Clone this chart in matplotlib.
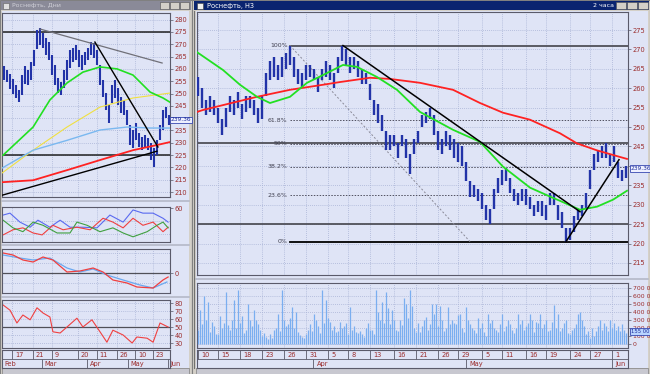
import matplotlib
matplotlib.use('Agg')
import matplotlib.pyplot as plt
import matplotlib.transforms as mtransforms
from matplotlib.patches import Rectangle

# ---------------- main window: hourly bars ----------------
main_hi = [263, 260, 257, 258, 257, 255, 252, 255, 258, 257,
           259, 256, 258, 258, 257, 255, 258, 264, 267, 268,
           266, 268, 269, 271, 268, 265, 264, 266, 266, 265,
           263, 265, 267, 266, 264, 268, 271, 270, 268, 268,
           267, 265, 264, 261, 257, 256, 253, 249, 248, 248,
           246, 248, 247, 243, 247, 249, 253, 254, 255, 253,
           249, 247, 249, 248, 247, 246, 245, 241, 236, 235,
           234, 233, 230, 229, 234, 237, 239, 239.5, 237, 234,
           233, 234, 234, 232, 230, 231, 231, 230, 233, 233,
           230, 228, 224, 224, 227, 229, 230, 233, 239, 243,
           244, 245, 246, 243, 245, 241, 239, 240]
main_lo = [258, 255, 253, 254, 253, 251, 248, 250, 254, 253,
           255, 252, 254, 255, 253, 251, 252, 258, 262, 263,
           262, 263, 265, 266, 263, 261, 260, 262, 263, 262,
           259, 262, 263, 262, 260, 264, 267, 266, 264, 265,
           263, 261, 261, 257, 253, 251, 249, 244, 244, 245,
           242, 245, 242, 238, 243, 246, 250, 251, 252, 248,
           244, 243, 245, 244, 242, 241, 240, 236, 232, 232,
           231, 229, 226, 225, 229, 233, 235, 236, 233, 231,
           230, 231, 230, 229, 227, 228, 227, 226, 230, 230,
           226, 224, 220.5, 221, 223, 226, 227, 229, 234, 239,
           241, 242, 242, 240, 241, 237, 236, 237]
main_last = 239.36

# volume in thousands, two readings per price bar
main_vol = [180, 420, 250, 600, 300, 520, 150, 280, 220, 130,
            120, 350, 200, 260, 650, 240, 180, 300, 550, 200,
            670, 260, 350, 140, 180, 500, 300, 220, 420, 300,
            250, 170, 100, 140, 90, 60, 120, 80, 180, 200,
            370, 160, 670, 300, 220, 250, 320, 460, 200, 400,
            150, 110, 90, 70, 130, 180, 250, 160, 380, 300,
            220, 140, 670, 260, 550, 330, 280, 180, 220, 150,
            160, 280, 200, 230, 260, 120, 460, 180, 220, 150,
            140, 160, 120, 90, 200, 260, 170, 180, 130, 670,
            400, 300, 520, 260, 650, 450, 250, 420, 300, 180,
            160, 300, 240, 580, 500, 330, 670, 480, 200, 150,
            260, 150, 230, 300, 340, 180, 250, 500, 380, 500,
            220, 480, 300, 160, 200, 460, 250, 300, 260, 250,
            360, 380, 200, 150, 460, 300, 250, 200, 180, 140,
            320, 200, 260, 150, 100, 380, 260, 300, 200, 180,
            150, 250, 380, 160, 230, 300, 250, 180, 140, 200,
            380, 250, 300, 180, 220, 260, 380, 300, 150, 280,
            260, 380, 200, 250, 300, 160, 180, 280, 490, 200,
            380, 160, 200, 260, 300, 140, 120, 180, 200, 250,
            380, 400, 300, 230, 120, 160, 80, 200, 100, 160,
            220, 300, 180, 260, 220, 160, 300, 200, 260, 180,
            220, 160, 250, 180, 140, 155]

red_ma_x = [-0.25, 1.25, 14.75, 23, 31.25, 35.5, 43, 48, 55.5, 63.75, 70.5,
            76.25, 83, 90.5, 94.75, 99.75, 105.5, 107.25]
red_ma_y = [253.9, 254.4, 257.8, 259.6, 260.9, 261.6, 262.7, 262.4, 261.4, 259.6,
            256.2, 253.7, 251.9, 248.4, 245.8, 244.0, 242.3, 241.8]
green_ma_x = [-0.25, 6.25, 10.5, 14.75, 18, 23, 27.25, 31.25, 36.25, 39.75, 44.75,
              49.75, 55.5, 63.75, 70.5, 76.25, 83, 88, 90.5, 95.5, 99.75, 103.75, 107.25]
green_ma_y = [269.3, 264.7, 260.9, 257.8, 256.2, 257.8, 261.4, 263.4, 266.0, 265.5, 262.9,
              259.6, 253.9, 249.3, 246.2, 239.8, 234.4, 232.1, 231.0, 228.7, 229.5, 231.3, 233.6]

fib_top, fib_bottom = 271.0, 220.5
fib_start, fib_end = 23, 68
fib_pct = [100, 61.8, 50, 38.2, 23.6, 0]
main_levels = [245.8, 225.0]
main_trend = [((36.25, 271.0), (95.5, 228.2)), ((92, 220.5), (105.25, 241.6))]

main_day_pos = [0, 5, 10.5, 16, 21.5, 27, 32.5, 37.5, 43, 49, 54.5, 60, 65, 71, 76, 82, 87, 93, 98, 103.5]
main_day_lbl = ['10', '15', '18', '23', '26', '31', '5', '8', '13', '16',
                '21', '26', '29', '5', '11', '16', '19', '24', '27', '1']
main_mon_pos = [28.75, 67, 103.5]
main_mon_lbl = ['Apr', 'May', 'Jun']

# ---------------- left window: daily bars ----------------
left_hi = [261, 259.5, 258, 256, 253.5, 251.5, 257.5, 261, 259.5, 263,
           267.7, 276, 276.6, 274.6, 272.5, 271, 265.6, 261.6, 256.3, 254.7,
           259.5, 263.6, 267.7, 268.5, 269.7, 267.7, 265.6, 266.9, 268.5, 271,
           270.5, 267.7, 261.6, 255.5, 250.2, 245.3, 253.5, 255.5, 252.2, 248.6,
           247.4, 243.3, 237.2, 235.2, 238, 234, 232.3, 233, 232, 230,
           228, 231, 237.2, 243.3, 244.5, 241.3]
left_lo = [255.5, 254.7, 252, 250, 248, 246.5, 249.4, 254, 253.5, 255.5,
           261, 268, 269.7, 268.5, 265.6, 263.6, 257.5, 253.5, 250.2, 249.4,
           252.2, 255.5, 260.4, 262.8, 263.6, 260.8, 259.5, 261.6, 263.6, 265.6,
           264.4, 261.6, 253.5, 248.6, 243.3, 238, 246.1, 248.2, 245.3, 242,
           241.3, 237.2, 229, 227.8, 231, 228.3, 227, 228, 227, 223,
           220.1, 225, 231, 235.2, 240, 237.2]

left_green_x = [-0.3, 9.7, 15.3, 21, 26.3, 32, 37.7, 43, 48.7, 53, 55.3]
left_green_y = [225, 236.4, 247.4, 254.3, 258.7, 260.8, 260, 257.5, 250.6, 248.2, 246.5]
left_yellow_x = [-0.7, 9.7, 21, 32, 43, 55.3]
left_yellow_y = [217.7, 227, 236.4, 244.5, 248.2, 250.2]
left_blue_x = [-0.7, 9.7, 21, 32, 41, 48.7, 55.3]
left_blue_y = [219.7, 227, 231, 235.2, 236.4, 236, 236]
left_red_x = [-0.7, 9.7, 21, 32, 43, 51, 55.3]
left_red_y = [214, 214.8, 218.9, 223, 227, 229.1, 230.3]

left_levels = [275, 225]
left_grey_trend = ((12, 276.2), (52.7, 262.4))
left_trend = [((30.3, 270.9), (51.3, 228.3)), ((-0.7, 208.7), (51, 226.6))]

# directional movement panel
dmi_blue_x = [-0.3, 2, 5.3, 8.7, 11.3, 15.3, 18.7, 22, 26.3, 31, 35.3, 39.7, 43, 46.3, 49.7, 53, 54.7]
dmi_blue_y = [49, 52, 38, 30, 41, 30, 41, 30, 30, 29, 49, 38, 57, 52, 52, 44, 38]
dmi_red_x = [-0.3, 3, 6.3, 9.7, 12.7, 16.3, 19.7, 24.3, 28.7, 33, 36.3, 39.7, 43, 46.3, 49.7, 53, 54.7]
dmi_red_y = [18, 26, 29, 21, 18, 33, 26, 30, 26, 44, 38, 29, 44, 33, 38, 23, 30]
dmi_green_x = [-0.3, 3, 6.3, 9.7, 13, 17.7, 22, 24.3, 27.7, 32, 36.3, 39.7, 43, 47.7, 51, 53, 54.7]
dmi_green_y = [41, 29, 23, 38, 33, 21, 21, 38, 33, 23, 29, 21, 15, 23, 33, 38, 29]

# MACD panel
macd_red_x = [-0.3, 3, 6.3, 9.7, 13, 16.3, 21, 25.3, 29.7, 33, 36.3, 41, 44.3, 49.7, 53, 54.7]
macd_red_y = [20, 18, 13, 11, 16, 13, 1, 2, 5, 1, -7, -10, -14, -15, -7, -4]
macd_blue_x = [-0.3, 5.3, 9.7, 15.3, 21, 25.3, 29.7, 34.3, 39.7, 45.3, 49.7, 54.3]
macd_blue_y = [18, 15, 13, 15, 5, 1, 4, -2, -7, -12, -15, -9]

# RSI panel
rsi_x = [-0.3, 2, 4.3, 6.3, 8.7, 11, 13, 15.3, 16.3, 18.7, 21, 24.3, 26.3, 29.3,
         32, 34.3, 36.3, 39.7, 42.7, 44.3, 47.7, 49.7, 52, 54.7]
rsi_y = [77.5, 71, 55, 65, 59, 74, 67.5, 62.5, 44, 42.5, 50, 61, 50, 59,
         44, 31, 46, 40, 30, 37.5, 36, 31, 55, 50]

left_day_pos = [2.7, 9.7, 16, 24.7, 31, 37.7, 43.7, 49.7]
left_day_lbl = ['17', '21', '9', '20', '11', '26', '10', '23']
left_mon_pos = [-0.67, 12.7, 27.7, 41.3, 54.7]
left_mon_lbl = ['Feb', 'Mar', 'Apr', 'May', 'Jun']

# ---------------- styling ----------------
W, H = 650, 374
BG = '#dfe4f6'
FRAME = '#5a5a6a'
GRID = '#a9b3d6'
LBL = '#9b2c2c'
BAR = '#2233a8'
FS = 4.8

fig = plt.figure(figsize=(W / 100, H / 100), dpi=100, facecolor='#c8c8d0')


def px_axes(x0, y0, x1, y1, face=BG):
    ax = fig.add_axes([x0 / W, 1 - y1 / H, (x1 - x0) / W, (y1 - y0) / H])
    ax.set_facecolor(face)
    for s in ax.spines.values():
        s.set_color(FRAME)
        s.set_linewidth(0.8)
    return ax


def setup_panel(ax, xlim, ylim, yticks, ylabels, grid_x, grid_y=None, fs=FS):
    ax.set_xlim(*xlim)
    ax.set_ylim(*ylim)
    ax.yaxis.tick_right()
    ax.set_yticks(yticks)
    ax.set_yticklabels(ylabels)
    ax.tick_params(axis='y', labelsize=fs, colors=FRAME, labelcolor=LBL,
                   length=2, width=0.5, pad=1.5)
    ax.set_xticks(grid_x)
    ax.tick_params(axis='x', length=0, labelbottom=False)
    ax.grid(True, axis='x', color=GRID, lw=0.6, ls=(0, (1, 1.5)))
    for g in (yticks if grid_y is None else grid_y):
        ax.axhline(g, color=GRID, lw=0.6, ls=(0, (1, 1.5)), zorder=0)
    ax.set_axisbelow(True)


def date_rows(x0, x1, xlim, day_pos, day_lbl, mon_pos, mon_lbl, dx):
    ax = px_axes(x0, 350, x1, 368)
    ax.set_xlim(*xlim)
    ax.set_ylim(0, 2)
    ax.set_xticks([])
    ax.set_yticks([])
    ax.axhline(1, color=FRAME, lw=0.6)
    ax.vlines(day_pos, 1, 2, color=FRAME, lw=0.6)
    ax.vlines(mon_pos, 0, 1, color=FRAME, lw=0.6)
    for p, t in zip(day_pos, day_lbl):
        ax.text(p + dx, 1.48, t, fontsize=FS, color=LBL, va='center', ha='left')
    for p, t in zip(mon_pos, mon_lbl):
        ax.text(p + dx, 0.48, t, fontsize=FS, color=LBL, va='center', ha='left')
    return ax


def readout(ax, value, text, face='#eef0ff', fs=FS - 0.6):
    # current value box drawn over the price scale, as the terminal does
    tr = mtransforms.blended_transform_factory(ax.transAxes, ax.transData)
    ax.text(1.006, value, text, transform=tr, fontsize=fs, color='#1a2a9a',
            va='center', ha='left', clip_on=False, zorder=10,
            bbox=dict(boxstyle='square,pad=0.12', fc=face, ec='#3848b0', lw=0.6))


# ---------------- window chrome ----------------
bg = fig.add_axes([0, 0, 1, 1])
bg.set_xlim(0, W)
bg.set_ylim(H, 0)
bg.axis('off')
bg.add_patch(Rectangle((0, 0), 192, H, fc='#d4d0c8', ec='#808080', lw=0.8))
bg.add_patch(Rectangle((2, 11), 187, 357, fc=BG, ec='none'))
bg.add_patch(Rectangle((1, 1), 190, 9, fc='#8a8a98', ec='none'))
bg.add_patch(Rectangle((3, 2.5), 6, 6, fc='#e0e0e0', ec='#606060', lw=0.4))
bg.text(12, 5.6, 'Роснефть, Дни', fontsize=4.5, color='#d0d0d8', va='center')
for bx in (160, 170, 180):
    bg.add_patch(Rectangle((bx, 2), 9, 7, fc='#d4d0c8', ec='#505050', lw=0.4))

bg.add_patch(Rectangle((192, 0), W - 192, H, fc='#d4d0c8', ec='#808080', lw=0.8))
bg.add_patch(Rectangle((196, 11), 452, 357, fc=BG, ec='none'))
bg.add_patch(Rectangle((194, 1), 455, 9, fc='#0a2470', ec='none'))
bg.add_patch(Rectangle((197, 2.5), 6, 6, fc='#f0f0f0', ec='#404040', lw=0.4))
bg.text(207, 5.6, 'Роснефть, H3', fontsize=4.8, color='white', va='center')
bg.text(614, 5.6, '2 часа', fontsize=4.5, color='white', va='center', ha='right')
for bx in (616, 627, 638):
    bg.add_patch(Rectangle((bx, 2), 10, 7, fc='#d4d0c8', ec='#505050', lw=0.4))

# splitters and scroll bars
for y in (201, 245, 297):
    bg.plot([2, 189], [y, y], color='#b4b8c8', lw=1.2)
bg.plot([196, 648], [279, 279], color='#b4b8c8', lw=1.2)
bg.add_patch(Rectangle((2, 368), 187, 6, fc='#c8c8d0', ec='#808080', lw=0.5))
bg.add_patch(Rectangle((196, 368), 452, 6, fc='#c8c8d0', ec='#808080', lw=0.5))
bg.plot([193.5, 193.5], [11, 368], color='#707070', lw=0.8)

# ---------------- main price panel ----------------
mx = (-0.25, 107.5)
ax = px_axes(197, 12, 628, 275)
setup_panel(ax, mx, (211.9, 279.64), list(range(215, 280, 5)),
            [str(v) if v != 240 else '' for v in range(215, 280, 5)], main_day_pos)

for lv in main_levels:
    ax.axhline(lv, color='#505058', lw=1.3, zorder=2)
for pct in fib_pct:
    lv = fib_bottom + pct / 100 * (fib_top - fib_bottom)
    if pct in (100, 0):
        ax.plot([fib_start, mx[1]], [lv, lv], color='#505058' if pct else 'black',
                lw=1.3, zorder=2)
    else:
        ax.plot([fib_start, mx[1]], [lv, lv], color='#505060', lw=0.7,
                ls=(0, (1.5, 1.5)), zorder=2)
    lbl = ('%g' % pct) + '%'
    ax.text(fib_start - 0.6, lv, lbl, fontsize=FS - 0.3, color='#404050',
            ha='right', va='center', zorder=3)
ax.plot([fib_start, fib_end], [fib_top, fib_bottom], color='#8a8a98', lw=0.7,
        ls=(0, (2, 2)), zorder=2)

ax.vlines(range(len(main_hi)), main_lo, main_hi, color=BAR, lw=1.7, zorder=3)
ax.plot(red_ma_x, red_ma_y, color='#ff2222', lw=1.3, zorder=4)
ax.plot(green_ma_x, green_ma_y, color='#22e022', lw=1.3, zorder=4)
for (x0, y0), (x1, y1) in main_trend:
    ax.plot([x0, x1], [y0, y1], color='black', lw=1.1, zorder=5)
readout(ax, main_last, '%.2f' % main_last)

# ---------------- main volume panel ----------------
av = px_axes(197, 283, 628, 348)
vt = list(range(0, 800, 100))
setup_panel(av, mx, (-50, 762.5), vt,
            ['0'] + ['%d 000' % v for v in vt[1:]], main_day_pos, fs=4.4)
vx = [j * 0.5 for j in range(len(main_vol))]
av.vlines(vx, 0, main_vol, color='#7aaef0', lw=0.9, zorder=3)
readout(av, main_vol[-1], '%d 000' % main_vol[-1], face='#b8d4ff', fs=3.8)

date_rows(197, 628, mx, main_day_pos, main_day_lbl, main_mon_pos, main_mon_lbl, 0.9)

# ---------------- left price panel ----------------
lx = (-0.67, 55.33)
al = px_axes(2, 13, 170, 197)
setup_panel(al, lx, (208.0, 282.7), list(range(210, 285, 5)),
            [str(v) if v != 240 else '' for v in range(210, 285, 5)], left_day_pos)
for lv in left_levels:
    al.axhline(lv, color='#202020', lw=1.1, zorder=2)
al.vlines(range(len(left_hi)), left_lo, left_hi, color=BAR, lw=1.5, zorder=3)
al.plot(left_yellow_x, left_yellow_y, color='#f0e040', lw=0.8, zorder=4)
al.plot(left_blue_x, left_blue_y, color='#7ab8f0', lw=1.0, zorder=4)
al.plot(left_green_x, left_green_y, color='#22e022', lw=1.2, zorder=4)
al.plot(left_red_x, left_red_y, color='#ff2222', lw=1.3, zorder=4)
(gx0, gy0), (gx1, gy1) = left_grey_trend
al.plot([gx0, gx1], [gy0, gy1], color='#707078', lw=0.9, zorder=5)
for (x0, y0), (x1, y1) in left_trend:
    al.plot([x0, x1], [y0, y1], color='black', lw=1.0, zorder=5)
readout(al, main_last, '%.2f' % main_last)

# ---------------- left indicator panels ----------------
a2 = px_axes(2, 207, 170, 242)
setup_panel(a2, lx, (6.9, 61.6), [60], ['60'], left_day_pos, grid_y=[20, 40])
a2.plot(dmi_blue_x, dmi_blue_y, color='#5a6af0', lw=0.8)
a2.plot(dmi_red_x, dmi_red_y, color='#f04040', lw=0.8)
a2.plot(dmi_green_x, dmi_green_y, color='#40a040', lw=0.8)

a3 = px_axes(2, 249, 170, 293)
setup_panel(a3, lx, (-20, 24), [0], ['0'], left_day_pos, grid_y=[-10, 10, 20])
a3.axhline(0, color='#505058', lw=0.9)
a3.plot(macd_blue_x, macd_blue_y, color='#6aa8f0', lw=0.9)
a3.plot(macd_red_x, macd_red_y, color='#f04040', lw=0.9)

a4 = px_axes(2, 300, 170, 348)
setup_panel(a4, lx, (23.75, 83.75), [30, 40, 50, 60, 70, 80],
            ['30', '40', '50', '60', '70', '80'], left_day_pos)
a4.axhline(50, color='#505058', lw=0.9)
a4.plot(rsi_x, rsi_y, color='#f04040', lw=0.8)

date_rows(2, 170, lx, left_day_pos, left_day_lbl, left_mon_pos, left_mon_lbl, 0.9)

fig.savefig('out.png', dpi=100, facecolor=fig.get_facecolor())
